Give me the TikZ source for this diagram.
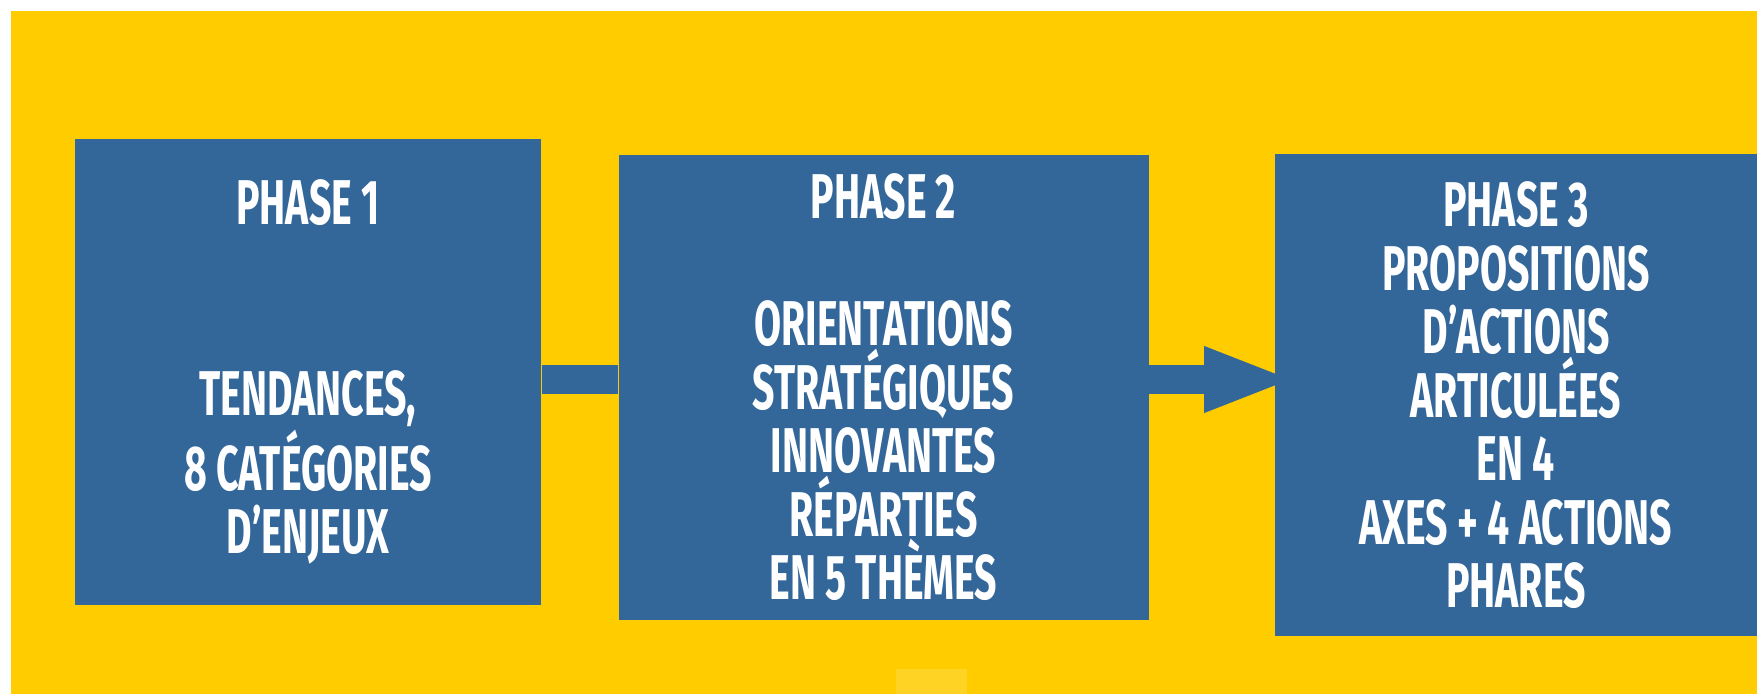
\documentclass[tikz,border=0pt]{standalone}
\usepackage{fontspec}
\usetikzlibrary{backgrounds,arrows.meta,calc}
\newfontfamily\phasefont[FakeStretch=0.62]{Fira Sans}
\definecolor{panelyellow}{HTML}{FFCC00}
\definecolor{phaseblue}{HTML}{336699}
\definecolor{stripyellow}{HTML}{FFD324}

\begin{document}
\begin{tikzpicture}
        %
        % `phasebox' is used for the three blue phase boxes.
        % `link' is used for the blue bands between the boxes.
        \tikzstyle{phasebox} = [fill=phaseblue,text=white,align=center,inner sep=0pt,
            font=\phasefont\bfseries\fontsize{18}{18.07}\selectfont]
        \tikzstyle{link} = [draw=phaseblue,line width=0.29cm]
        %
        \useasboundingbox (0,0) rectangle (17.57,-6.94);
        %
        % Phase 1
        \node[phasebox,minimum width=4.66cm,minimum height=4.66cm] (phase1) at (3.08,-3.72)
            {PHASE 1\\[1.27cm] TENDANCES,\\ 8 CATÉGORIES\\ D’ENJEUX};
        %
        % Phase 2
        \node[phasebox,minimum width=5.30cm,minimum height=4.65cm] (phase2) at (8.835,-3.871)
            {PHASE 2\\[0.635cm] ORIENTATIONS\\ STRATÉGIQUES\\ INNOVANTES\\ RÉPARTIES\\ EN 5 THÈMES};
        %
        % Phase 3
        \node[phasebox,minimum width=4.82cm,minimum height=4.82cm] (phase3) at (15.16,-3.955)
            {PHASE 3\\ PROPOSITIONS\\ D’ACTIONS\\ ARTICULÉES\\ EN 4\\ AXES + 4 ACTIONS\\ PHARES};
        %
        % Band level and arrow tip
        \coordinate (level) at (0,-3.795);
        \coordinate (tip) at (12.96,-3.795);
        %
        % Background panel and links
        \begin{pgfonlayer}{background}
        \fill[panelyellow] (0.11,-0.11) rectangle (17.57,-6.94);
        \fill[stripyellow] (8.96,-6.69) rectangle (9.67,-6.94);
        \draw[link] (phase1.east |- level) -- (phase2.west |- level);
        \draw[link,-{Triangle[length=0.92cm,width=0.59cm]}] (phase2.east |- level) -- (tip);
        \end{pgfonlayer}
        %
\end{tikzpicture}
\end{document}
